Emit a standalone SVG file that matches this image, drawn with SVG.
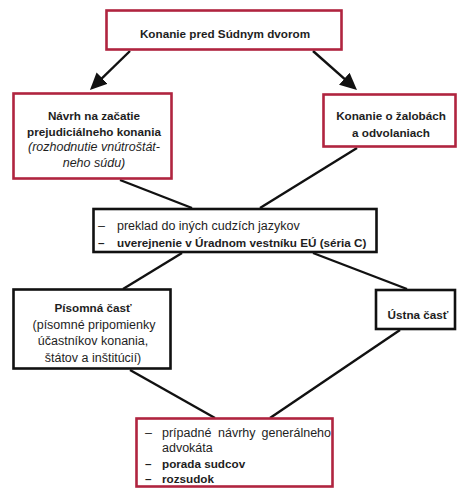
<svg xmlns="http://www.w3.org/2000/svg" width="474" height="494" viewBox="0 0 474 494">
<style>
  .red { fill: #ffffff; stroke: #b0243f; stroke-width: 2.6; }
  .blk { fill: #ffffff; stroke: #111111; stroke-width: 2.6; }
  .con { stroke: #111111; stroke-width: 2.4; fill: none; }
  text { font-family: "Liberation Sans", Arial, sans-serif; fill: #1e1e1e; }
  .b { font-size: 11.7px; font-weight: bold; }
  .r { font-size: 12.5px; }
  .i { font-size: 12.5px; font-style: italic; }
  .c { text-anchor: middle; }
</style>
<defs>
  <marker id="ah" viewBox="0 0 17 16" refX="9" refY="8" markerWidth="17" markerHeight="16" markerUnits="userSpaceOnUse" orient="auto">
    <path d="M0,0 L17,8 L0,16 z" fill="#111111"/>
  </marker>
</defs>
<rect width="474" height="494" fill="#ffffff"/>

<g id="connectors">
  <line class="con" x1="130" y1="51" x2="95.7" y2="84.4" marker-end="url(#ah)"/>
  <line class="con" x1="313" y1="51" x2="351" y2="84.7" marker-end="url(#ah)"/>
  <line class="con" x1="120" y1="180" x2="192" y2="208"/>
  <line class="con" x1="357" y1="148" x2="260" y2="208"/>
  <line class="con" x1="182" y1="253" x2="123" y2="289"/>
  <line class="con" x1="313" y1="253" x2="407" y2="289"/>
  <line class="con" x1="130" y1="370" x2="215" y2="418"/>
  <line class="con" x1="400" y1="330" x2="270" y2="418"/>
</g>

<g id="node-top">
  <rect class="red" x="106.5" y="10.5" width="235" height="39"/>
  <text class="b c" x="225" y="37.5">Konanie pred Súdnym dvorom</text>
</g>

<g id="node-navrh">
  <rect class="red" x="13.5" y="93.5" width="158" height="85"/>
  <text class="b c" x="94" y="120">Návrh na začatie</text>
  <text class="b c" x="94" y="136">prejudiciálneho konania</text>
  <text class="i c" x="94" y="151">(rozhodnutie vnútroštát-</text>
  <text class="i c" x="94" y="167">neho súdu)</text>
</g>

<g id="node-zaloby">
  <rect class="red" x="323.5" y="94.5" width="132" height="52"/>
  <text class="b c" x="391" y="120">Konanie o žalobách</text>
  <text class="b c" x="391" y="137">a odvolaniach</text>
</g>

<g id="node-preklad">
  <rect class="blk" x="93.5" y="209" width="283" height="43"/>
  <text class="r" x="98" y="230">–</text>
  <text class="r" x="117" y="230">preklad do iných cudzích jazykov</text>
  <text class="b" x="98" y="247">–</text>
  <text class="b" x="117" y="247">uverejnenie v Úradnom vestníku EÚ (séria C)</text>
</g>

<g id="node-pisomna">
  <rect class="blk" x="13.5" y="289.5" width="157" height="79"/>
  <text class="b c" x="93" y="312">Písomná časť</text>
  <text class="r c" x="94" y="329">(písomné pripomienky</text>
  <text class="r c" x="93" y="345">účastníkov konania,</text>
  <text class="r c" x="93" y="361.5">štátov a inštitúcií)</text>
</g>

<g id="node-ustna">
  <rect class="blk" x="376" y="290" width="79" height="39"/>
  <text class="b c" x="418" y="319">Ústna časť</text>
</g>

<g id="node-rozsudok">
  <rect class="red" x="136.5" y="418.5" width="196" height="68"/>
  <text class="r" x="145" y="437">–</text>
  <text class="r" x="162" y="437">prípadné</text>
  <text class="r" x="218" y="437">návrhy</text>
  <text class="r" x="331" y="437" text-anchor="end">generálneho</text>
  <text class="r" x="162" y="452">advokáta</text>
  <text class="b" x="145" y="468">–</text>
  <text class="b" x="162" y="468">porada sudcov</text>
  <text class="b" x="145" y="483">–</text>
  <text class="b" x="162" y="483">rozsudok</text>
</g>
</svg>
